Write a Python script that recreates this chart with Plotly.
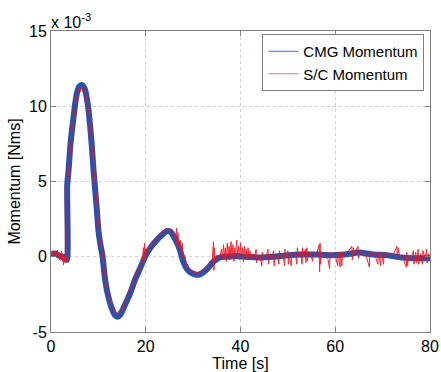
import plotly.graph_objects as go

# ---- data (momentum in units of 1e-3 Nms) ----
cmg_t = [0, 0.5, 1, 1.5, 2, 2.5, 3, 3.37, 3.42, 3.71, 4.06, 4.42, 4.77, 5.12, 5.47, 5.96,
         6.5, 7.08, 7.57, 7.92, 8.27, 8.63, 8.97, 9.33, 9.68, 10.0, 10.38, 10.87, 11.43,
         12.1, 12.84, 13.5, 14.0, 14.6, 15.6, 16.7, 17.7, 18.8, 19.85, 20.9, 22.0, 23.4,
         24.4, 25.3, 25.8, 26.5, 27.2, 27.9, 28.8, 29.8, 31.1, 32.3, 33.3, 34.2, 35.6, 37,
         39, 41, 44, 47, 50, 53, 56, 59, 62, 65, 68, 71, 74, 77, 80]
cmg_v = [0.25, 0.2, 0.2, 0.1, 0.05, 0.0, -0.1, -0.2, 4.7, 5.76, 7.3, 8.4, 9.3, 10.2, 10.86, 11.3,
         11.41, 11.19, 10.53, 9.75, 8.64, 7.31, 5.76, 4.43, 3.1, 1.78, 0.89, 0.05, -1.55,
         -2.65, -3.43, -3.87, -3.98, -3.87, -3.2, -2.43, -1.55, -0.77, 0.0, 0.56, 1.0, 1.45,
         1.7, 1.65, 1.4, 1.0, 0.45, -0.3, -0.85, -1.1, -1.2, -1.0, -0.7, -0.35, -0.05, 0.0,
         0.05, 0.0, -0.05, 0.0, 0.1, 0.15, 0.15, 0.1, 0.15, 0.28, 0.15, 0.1, -0.05, -0.1, -0.1]

sc_t = [0.0, 0.15, 0.3, 0.45, 0.6, 0.75, 0.9, 1.05, 1.2, 1.35, 1.5, 1.65, 1.8, 1.95, 2.1, 2.25,
        2.4, 2.55, 2.65, 2.8, 2.95, 3.1, 3.25, 3.37,
        3.42, 3.71, 4.06, 4.42, 4.77, 5.12, 5.47, 5.8, 5.96, 6.2, 6.5, 6.8, 7.08, 7.3, 7.57,
        7.92, 8.27, 8.63, 8.97, 9.33, 9.68, 10.0, 10.38, 10.87, 11.43, 12.1, 12.84, 13.5,
        14.0, 14.3, 14.6, 15.0, 15.6, 16.7, 17.7, 18.8, 19.3, 19.5, 19.6, 19.75, 19.85, 20.0,
        20.2, 20.9, 22.0, 23.4, 24.4, 25.3, 25.8, 26.3, 26.5, 26.6, 26.8, 27.0, 27.3, 27.5,
        27.7, 27.9, 28.2, 28.8, 29.8, 30.5, 31.1, 32.3, 33.3, 34.0, 34.3, 34.4, 34.5, 34.6,
        35.0, 35.6,
        36.0, 36.2, 36.4, 36.6, 36.8, 37.0, 37.2, 37.4, 37.6, 37.8, 38.0, 38.2, 38.4, 38.6,
        38.8, 39.0, 39.2, 39.4, 39.6, 39.8, 40.0, 40.2, 40.4, 40.6, 40.8, 41.0, 41.2, 41.4,
        41.6, 41.8, 42.0, 42.3, 42.6,
        43.0, 43.3, 43.4, 43.6, 44.2, 44.5, 44.6, 44.8, 45.5, 45.8, 45.9, 46.1, 46.6, 47.0,
        47.1, 47.3, 47.8, 48.1, 48.2, 48.4, 49.0, 49.3, 49.4, 49.6, 50.0, 50.1, 50.3, 50.7,
        50.8, 51.0, 51.6, 51.9, 52.0, 52.2, 52.7, 53.0, 53.1, 53.3, 53.7, 53.8, 54.0, 54.1,
        54.3, 54.8, 55.2, 55.4, 56.0, 56.6, 56.7, 56.8, 56.9, 57.1, 57.7, 58.5, 58.8, 58.9,
        59.2, 60.0, 60.5, 60.6, 61.0, 61.1, 61.4, 61.5, 62.0, 62.6, 63.5, 63.6, 63.8, 64.0,
        64.8, 64.9, 65.1, 65.8, 66.5, 67.2, 67.3, 67.5, 68.3, 69.0, 69.1, 69.6, 69.7, 70.2,
        70.3, 70.8, 71.5, 72.3, 73.0, 73.1, 73.3, 73.5, 74.2, 75.0, 75.1, 75.3, 75.4, 76.0,
        76.5, 76.6, 77.0, 77.1, 77.5, 77.6, 78.0, 78.4, 78.5, 79.0, 79.3, 79.4, 79.7, 80.0]
sc_v = [0.2, 0.35, 0.05, 0.3, 0.15, 0.4, 0.0, 0.3, 0.1, 0.45, -0.05, 0.3, -0.2, 0.2, -0.25, 0.35,
        -0.3, 0.1, -0.55, 0.05, -0.4, 0.0, -0.35, -0.1,
        4.6, 5.7, 7.2, 8.3, 9.2, 10.0, 10.7, 11.0, 11.2, 11.0, 11.3, 11.0, 11.1, 10.9, 10.5,
        9.8, 8.7, 7.4, 5.8, 4.5, 3.2, 1.9, 1.0, 0.15, -1.4, -2.5, -3.3, -3.7,
        -3.75, -3.6, -3.7, -3.5, -3.05, -2.3, -1.4, -0.6, -0.2, 0.6, -0.3, 0.9, -0.1, 0.5,
        0.2, 0.7, 1.15, 1.6, 1.85, 1.75, 1.5, 1.2, 1.9, 0.9, 1.6, 0.6, 1.1, 0.3,
        0.9, -0.2, 0.1, -0.75, -1.0, -1.05, -1.1, -0.9, -0.6, -0.3, 1.0, -0.9, 0.6, -0.3,
        0.1, 0.0,
        0.5, -0.2, 0.8, 0.0, 0.6, -0.3, 0.9, 0.1, 0.7, -0.2, 1.0, 0.0, 0.8, -0.3,
        0.6, 0.1, 1.1, -0.1, 0.7, -0.2, 0.9, 0.0, 0.6, -0.3, 0.7, 0.0, 0.5, -0.2,
        0.6, -0.1, 0.4, -0.2, 0.2,
        0.0, 0.5, -0.4, 0.1, 0.0, -0.6, 0.3, 0.0, 0.1, 0.5, -0.5, 0.1, -0.1, 0.4,
        -0.6, 0.0, 0.1, -0.5, 0.4, 0.0, 0.1, -0.6, 0.5, 0.0, 0.4, -0.5, 0.1, -0.6,
        0.3, 0.1, 0.2, -0.5, 0.6, 0.1, 0.3, -0.5, 0.6, 0.0, 0.5, -0.4, 0.6, -0.3,
        0.2, 0.3, -0.3, 0.2, 0.1, 0.8, -1.0, 0.9, -0.5, 0.2, 0.1, -0.2, -0.8, 0.3,
        0.0, 0.1, -0.6, 0.3, -0.7, 0.3, -0.6, 0.2, 0.2, 0.3, 0.7, -0.2, 0.6, 0.2,
        0.7, -0.1, 0.3, 0.2, 0.1, -0.7, 0.4, 0.1, 0.2, -0.5, 0.3, -0.6, 0.3, -0.5,
        0.3, 0.1, 0.1, 0.2, 0.7, -0.2, 0.6, 0.1, 0.0, -0.7, 0.3, -0.6, 0.1, -0.1,
        0.4, -0.5, 0.3, -0.4, 0.5, -0.5, 0.2, -0.5, 0.4, -0.1, 0.5, -0.4, 0.2, -0.1]

x_ticks = [0, 20, 40, 60, 80]
y_ticks = [-5, 0, 5, 10, 15]
series_names = ["CMG Momentum", "S/C Momentum"]

BLUE = "#2b50aa"
RED = "#f0141e"
FONT = "Liberation Sans, Arial, sans-serif"

fig = go.Figure()
fig.add_trace(go.Scatter(x=cmg_t, y=cmg_v, mode="lines", showlegend=False,
                         line=dict(color=BLUE, width=6, shape="spline", smoothing=0.6)))
fig.add_trace(go.Scatter(x=sc_t, y=sc_v, mode="lines", showlegend=False, opacity=0.9,
                         line=dict(color=RED, width=1.0)))
# legend entries (thin lines as in the reference legend)
fig.add_trace(go.Scatter(x=[None], y=[None], mode="lines", name=series_names[0],
                         line=dict(color="#5068c0", width=1)))
fig.add_trace(go.Scatter(x=[None], y=[None], mode="lines", name=series_names[1],
                         line=dict(color="#f07080", width=1)))

axis_common = dict(showline=True, mirror="ticks", linecolor="#808080", linewidth=1,
                   ticks="inside", ticklen=5, tickcolor="#808080",
                   showgrid=True, gridcolor="#d0d0d0", griddash="dot", gridwidth=1,
                   zeroline=False, automargin=False,
                   tickfont=dict(size=16, color="black", family=FONT))

fig.update_layout(
    width=441, height=372,
    margin=dict(l=51, r=11, t=31, b=40),
    paper_bgcolor="white", plot_bgcolor="white",
    font=dict(family=FONT, color="black", size=16),
    xaxis=dict(range=[0, 80], tickvals=x_ticks, ticktext=[str(v) for v in x_ticks],
               title=dict(text="Time [s]", font=dict(size=16), standoff=5), **axis_common),
    yaxis=dict(range=[-5, 15], tickvals=y_ticks, ticktext=[str(v) for v in y_ticks],
               title=dict(text="Momentum [Nms]", font=dict(size=16), standoff=4), **axis_common),
    legend=dict(x=0.985, y=0.99, xanchor="right", yanchor="top",
                bgcolor="white", bordercolor="#808080", borderwidth=1,
                font=dict(size=15, family=FONT), tracegroupgap=0,
                itemwidth=30),
    annotations=[dict(text="x 10<sup>-3</sup>", xref="paper", yref="paper", x=0, y=1,
                      xanchor="left", yanchor="bottom", showarrow=False,
                      font=dict(size=16, family=FONT), xshift=-2, yshift=-2)],
)

fig.write_html("out.html")
